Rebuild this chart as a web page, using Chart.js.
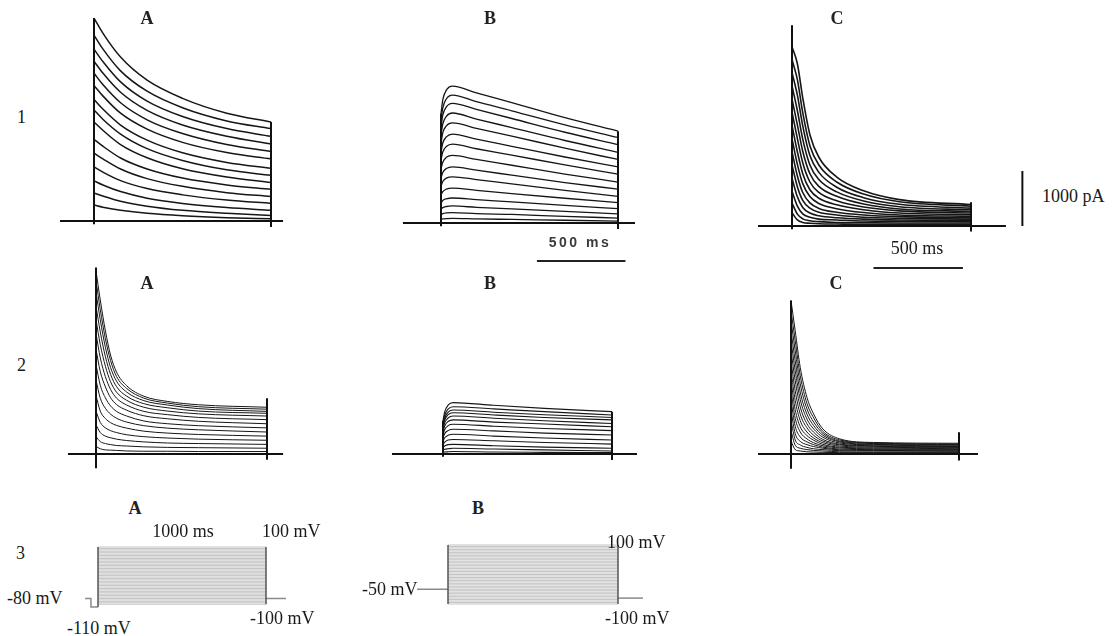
<!DOCTYPE html>
<html>
<head>
<meta charset="utf-8">
<script src="https://cdn.jsdelivr.net/npm/chart.js@4.4.1/dist/chart.umd.min.js"></script>
<style>
  body { margin: 0; background: #fff; width: 1120px; height: 636px; position: relative; overflow: hidden;
         font-family: "Liberation Serif", "Times New Roman", serif; color: #1a1a1a; }
  canvas { position: absolute; }
  .txt { position: absolute; font-size: 18px; line-height: 1; white-space: nowrap; transform: translateY(-50%); }
  .cen { transform: translate(-50%, -50%); }
  .letra { font-size: 18px; font-weight: bold; color: #222; }
  .barraSans { font-family: "Liberation Sans", Arial, sans-serif; font-weight: bold; font-size: 14px; letter-spacing: 2.5px; color: #3a3a3a; }
</style>
</head>
<body>
<canvas id="p1A"></canvas>
<canvas id="p1B"></canvas>
<canvas id="p1C"></canvas>
<canvas id="p2A"></canvas>
<canvas id="p2B"></canvas>
<canvas id="p2C"></canvas>
<canvas id="p3A"></canvas>
<canvas id="p3B"></canvas>

<div class="txt" style="left:17px;top:117px">1</div>
<div class="txt" style="left:17px;top:365px">2</div>
<div class="txt" style="left:16px;top:553px">3</div>

<div class="txt cen letra" style="left:147px;top:18px">A</div>
<div class="txt cen letra" style="left:490px;top:18px">B</div>
<div class="txt cen letra" style="left:837px;top:18px">C</div>
<div class="txt cen letra" style="left:147px;top:283px">A</div>
<div class="txt cen letra" style="left:490px;top:283px">B</div>
<div class="txt cen letra" style="left:836px;top:283px">C</div>
<div class="txt cen letra" style="left:135px;top:508px">A</div>
<div class="txt cen letra" style="left:478px;top:508px">B</div>

<div class="txt cen barraSans" style="left:580px;top:242px">500 ms</div>
<div class="txt cen" style="left:917px;top:248px">500 ms</div>
<div class="txt" style="left:1042px;top:196px">1000 pA</div>

<div class="txt cen" style="left:183px;top:531px">1000 ms</div>
<div class="txt" style="left:262px;top:531px">100 mV</div>
<div class="txt" style="left:7px;top:598px">-80 mV</div>
<div class="txt" style="left:67px;top:628px">-110 mV</div>
<div class="txt" style="left:250px;top:618px">-100 mV</div>
<div class="txt" style="left:362px;top:589px">-50 mV</div>
<div class="txt" style="left:607px;top:542px">100 mV</div>
<div class="txt" style="left:605px;top:618px">-100 mV</div>

<script>
// Corrientes en pA, tiempos en ms desde el inicio del pulso
const tiempos1A = [0, 50, 150, 300, 500, 750, 1000];
const corrientes1A = [
  [3690, 3415, 2980, 2560, 2230, 1960, 1800],
  [3380, 3130, 2730, 2360, 2060, 1820, 1680],
  [3125, 2900, 2530, 2180, 1900, 1680, 1540],
  [2905, 2690, 2340, 2010, 1745, 1540, 1400],
  [2685, 2480, 2150, 1840, 1590, 1390, 1265],
  [2465, 2275, 1960, 1670, 1430, 1245, 1130],
  [2210, 2035, 1745, 1470, 1240, 1065, 960],
  [2020, 1850, 1580, 1315, 1100, 930, 830],
  [1800, 1650, 1390, 1150, 950, 800, 700],
  [1485, 1360, 1145, 945, 780, 655, 575],
  [1235, 1130, 945, 770, 630, 515, 445],
  [985, 890, 735, 590, 475, 380, 320],
  [730, 655, 535, 415, 320, 245, 195],
  [510, 455, 360, 270, 195, 140, 100],
  [290, 250, 195, 140, 95, 60, 40]
];

const tiempos1B = [0, 10, 30, 65, 200, 400, 700, 1000];
const corrientes1B = [
  [1990, 2240, 2415, 2490, 2365, 2190, 1915, 1670],
  [1860, 2090, 2255, 2325, 2205, 2040, 1785, 1555],
  [1740, 1960, 2110, 2175, 2065, 1900, 1650, 1425],
  [1600, 1800, 1940, 2000, 1890, 1735, 1500, 1285],
  [1455, 1640, 1765, 1820, 1720, 1580, 1360, 1155],
  [1290, 1455, 1565, 1615, 1525, 1395, 1200, 1020],
  [1150, 1290, 1390, 1435, 1350, 1235, 1055, 890],
  [985, 1105, 1195, 1230, 1155, 1050, 890, 745],
  [815, 920, 990, 1020, 960, 870, 735, 615],
  [670, 755, 815, 840, 790, 710, 595, 485],
  [510, 570, 615, 635, 595, 535, 450, 370],
  [365, 410, 440, 455, 425, 385, 320, 260],
  [250, 280, 300, 310, 285, 255, 210, 165],
  [150, 170, 185, 190, 170, 155, 120, 90],
  [70, 75, 80, 85, 75, 65, 50, 35]
];

const tiempos1C = [0, 30, 60, 100, 150, 250, 400, 600, 1000];
const corrientes1C = [
  [3260, 2950, 2330, 1660, 1250, 890, 640, 480, 390],
  [3030, 2660, 2060, 1460, 1110, 800, 580, 440, 360],
  [2790, 2380, 1820, 1280, 975, 705, 515, 395, 325],
  [2550, 2100, 1580, 1110, 845, 620, 455, 350, 295],
  [2310, 1840, 1360, 950, 720, 540, 400, 310, 265],
  [2070, 1590, 1150, 800, 610, 460, 345, 275, 235],
  [1830, 1350, 950, 660, 505, 385, 295, 235, 205],
  [1590, 1120, 770, 535, 410, 315, 245, 200, 175],
  [1350, 910, 610, 420, 320, 250, 200, 170, 150],
  [1110, 715, 465, 325, 250, 200, 160, 140, 125],
  [870, 530, 335, 235, 185, 150, 125, 110, 100],
  [630, 360, 220, 160, 125, 110, 90, 85, 80],
  [420, 215, 130, 95, 80, 65, 60, 55, 55],
  [240, 110, 65, 50, 40, 35, 30, 30, 30]
];

const tiempos2A = [0, 25, 55, 85, 120, 180, 280, 420, 600, 1000];
const corrientes2A = [
  [3330, 2800, 2240, 1800, 1490, 1240, 1050, 955, 895, 850],
  [3155, 2625, 2095, 1700, 1410, 1190, 1015, 925, 860, 815],
  [2940, 2440, 1940, 1575, 1325, 1125, 970, 890, 825, 775],
  [2690, 2220, 1770, 1450, 1225, 1050, 915, 840, 780, 740],
  [2440, 1990, 1595, 1315, 1125, 975, 850, 780, 730, 690],
  [2190, 1750, 1405, 1175, 1015, 890, 775, 715, 665, 625],
  [1905, 1500, 1220, 1025, 900, 795, 695, 640, 595, 550],
  [1625, 1250, 1020, 875, 775, 690, 600, 550, 515, 475],
  [1345, 1015, 830, 725, 650, 580, 515, 470, 440, 400],
  [1065, 780, 645, 570, 520, 470, 415, 380, 355, 325],
  [780, 575, 475, 425, 390, 350, 315, 290, 270, 250],
  [530, 390, 325, 295, 270, 245, 220, 200, 190, 175],
  [315, 225, 190, 170, 155, 145, 130, 120, 115, 105],
  [140, 95, 75, 70, 65, 55, 50, 50, 45, 45]
];

const tiempos2B = [0, 10, 30, 60, 300, 600, 1000];
const corrientes2B = [
  [610, 765, 890, 935, 885, 830, 770],
  [560, 705, 815, 860, 820, 770, 710],
  [520, 655, 760, 800, 760, 715, 665],
  [490, 615, 715, 750, 710, 665, 620],
  [450, 565, 655, 690, 650, 605, 555],
  [405, 510, 590, 620, 580, 545, 495],
  [350, 445, 515, 540, 505, 465, 425],
  [295, 370, 425, 450, 420, 380, 345],
  [235, 295, 340, 360, 325, 290, 255],
  [170, 215, 255, 265, 240, 210, 180],
  [115, 145, 170, 175, 150, 125, 105],
  [70, 85, 95, 105, 90, 75, 55],
  [30, 35, 40, 45, 35, 30, 25]
];

const tiempos2C = [0, 25, 55, 95, 135, 190, 290, 490, 1000];
const corrientes2C = [
  [2790, 2240, 1575, 1030, 725, 455, 275, 210, 195],
  [2605, 2060, 1425, 920, 655, 410, 255, 200, 180],
  [2425, 1880, 1275, 820, 580, 375, 235, 190, 170],
  [2240, 1695, 1125, 725, 515, 340, 220, 175, 160],
  [2060, 1515, 990, 635, 455, 305, 200, 165, 145],
  [1880, 1335, 855, 550, 395, 265, 180, 150, 135],
  [1695, 1150, 725, 475, 340, 235, 165, 140, 120],
  [1515, 975, 605, 400, 290, 205, 145, 125, 110],
  [1335, 805, 495, 335, 250, 175, 125, 110, 95],
  [1150, 650, 400, 275, 205, 150, 110, 95, 85],
  [970, 505, 310, 220, 170, 125, 90, 80, 75],
  [790, 370, 230, 170, 135, 105, 75, 65, 60],
  [605, 255, 165, 120, 95, 80, 60, 55, 50],
  [425, 160, 105, 80, 65, 55, 40, 35, 35],
  [240, 80, 55, 40, 35, 30, 25, 25, 25]
];

// linea base y artefactos: [t inicio, t fin, bajo inicio, alto inicio, alto fin, bajo fin]
const marco1A = [-192, 1068, -60, 3690, 1800, -110];
const marco1B = [-215, 1096, -60, 1990, 1670, -110];
const marco1C = [-190, 1195, -60, 3650, 430, -100];
const marco2A = [-164, 1094, -260, 3390, 1015, -105];
const marco2B = [-302, 1148, -50, 610, 770, -110];
const marco2C = [-196, 1113, -270, 2790, 395, -120];

// barras de escala: [t inicio, t fin, nivel pA] y [t, pA inicio, pA fin]
const escala500B = [542, 1042, -690];
const escala500C = [455, 955, -764];
const escala1000pA = [1287, 0, 1000];

// protocolos de voltaje (mV)
const pasosMV = [-100, -95, -90, -85, -80, -75, -70, -65, -60, -55, -50, -45, -40, -35, -30, -25, -20, -15, -10, -5,
  0, 5, 10, 15, 20, 25, 30, 35, 40, 45, 50, 55, 60, 65, 70, 75, 80, 85, 90, 95, 100];
const sostenA_t = [-77, -42, -42, 0];
const sostenA_v = [-80, -80, -110, -110];
const colaA_t = [1000, 1119];
const colaA_v = [-80, -80];
const sostenB_t = [-182, 0];
const sostenB_v = [-50, -50];
const colaB_t = [1000, 1147];
const colaB_v = [-80, -80];

const PX_POR_PA = 0.055;

const puntos = (t, v) => t.map((x, i) => ({ x, y: v[i] }));

const trazas = (tiempos, corrientes, ancho) => corrientes.map(c => ({
  data: puntos(tiempos, c),
  borderColor: '#161616',
  borderWidth: ancho,
  pointRadius: 0,
  cubicInterpolationMode: 'monotone',
  fill: false
}));

const linea = (data, color, ancho) => ({
  data, borderColor: color, borderWidth: ancho, pointRadius: 0, tension: 0, fill: false
});

const marco = (m) => linea([
  { x: m[0], y: 0 }, { x: 0, y: 0 }, { x: 0, y: m[2] }, { x: 0, y: m[3] }, { x: 0, y: 0 },
  { x: 1000, y: 0 }, { x: 1000, y: m[4] }, { x: 1000, y: m[5] }, { x: 1000, y: 0 }, { x: m[1], y: 0 }
], '#111', 2);

const barraT = (b) => linea([{ x: b[0], y: b[2] }, { x: b[1], y: b[2] }], '#222', 2);
const barraY = (b) => linea([{ x: b[0], y: b[1] }, { x: b[0], y: b[2] }], '#111', 2);

// y0: pixel de la pagina donde cae el valor 0 del eje vertical
const creaPanel = (id, caja, esc, datasets) => {
  const canvas = document.getElementById(id);
  canvas.width = caja.w;
  canvas.height = caja.h;
  canvas.style.left = caja.left + 'px';
  canvas.style.top = caja.top + 'px';
  canvas.style.width = caja.w + 'px';
  canvas.style.height = caja.h + 'px';
  new Chart(canvas, {
    type: 'line',
    data: { datasets },
    options: {
      responsive: false,
      animation: false,
      events: [],
      layout: { padding: 0 },
      plugins: { legend: { display: false }, tooltip: { enabled: false } },
      scales: {
        x: { type: 'linear', display: false,
             min: (caja.left - esc.x0) / esc.pxMs, max: (caja.left + caja.w - esc.x0) / esc.pxMs },
        y: { type: 'linear', display: false,
             min: (esc.y0 - caja.top - caja.h) / esc.pxU, max: (esc.y0 - caja.top) / esc.pxU }
      }
    }
  });
};

const protocolo = (sostT, sostV, colaT, colaV, fondo) => [
  linea(puntos([0, 0], [fondo, 100]), '#555', 1.5),
  linea(puntos([1000, 1000], [-100, 100]), '#555', 1.5),
  linea(puntos(sostT, sostV), '#8a8a8a', 1.5),
  linea(puntos(colaT, colaV), '#8a8a8a', 1.5),
  ...pasosMV.map(v => linea(puntos([0, 1000], [v, v]), '#b4b4b4', 0.8))
];

creaPanel('p1A', { left: 50, top: 5, w: 245, h: 230 }, { x0: 94, pxMs: 0.177, y0: 221, pxU: PX_POR_PA },
  [marco(marco1A), ...trazas(tiempos1A, corrientes1A, 1.5)]);
creaPanel('p1B', { left: 395, top: 60, w: 250, h: 220 }, { x0: 441, pxMs: 0.177, y0: 223, pxU: PX_POR_PA },
  [marco(marco1B), barraT(escala500B), ...trazas(tiempos1B, corrientes1B, 1.3)]);
creaPanel('p1C', { left: 750, top: 10, w: 290, h: 270 }, { x0: 792, pxMs: 0.179, y0: 226, pxU: PX_POR_PA },
  [marco(marco1C), barraT(escala500C), barraY(escala1000pA), ...trazas(tiempos1C, corrientes1C, 1.6)]);
creaPanel('p2A', { left: 60, top: 260, w: 230, h: 215 }, { x0: 96, pxMs: 0.171, y0: 454, pxU: PX_POR_PA },
  [marco(marco2A), ...trazas(tiempos2A, corrientes2A, 1)]);
creaPanel('p2B', { left: 385, top: 380, w: 260, h: 95 }, { x0: 443, pxMs: 0.169, y0: 454, pxU: PX_POR_PA },
  [marco(marco2B), ...trazas(tiempos2B, corrientes2B, 1.1)]);
creaPanel('p2C', { left: 750, top: 285, w: 240, h: 190 }, { x0: 791, pxMs: 0.168, y0: 454, pxU: PX_POR_PA },
  [marco(marco2C), ...trazas(tiempos2C, corrientes2C, 1)]);
creaPanel('p3A', { left: 75, top: 535, w: 220, h: 80 }, { x0: 98, pxMs: 0.168, y0: 575.6, pxU: 0.286 },
  protocolo(sostenA_t, sostenA_v, colaA_t, colaA_v, -110));
creaPanel('p3B', { left: 410, top: 535, w: 240, h: 80 }, { x0: 448, pxMs: 0.170, y0: 574.5, pxU: 0.295 },
  protocolo(sostenB_t, sostenB_v, colaB_t, colaB_v, -100));
</script>
</body>
</html>
